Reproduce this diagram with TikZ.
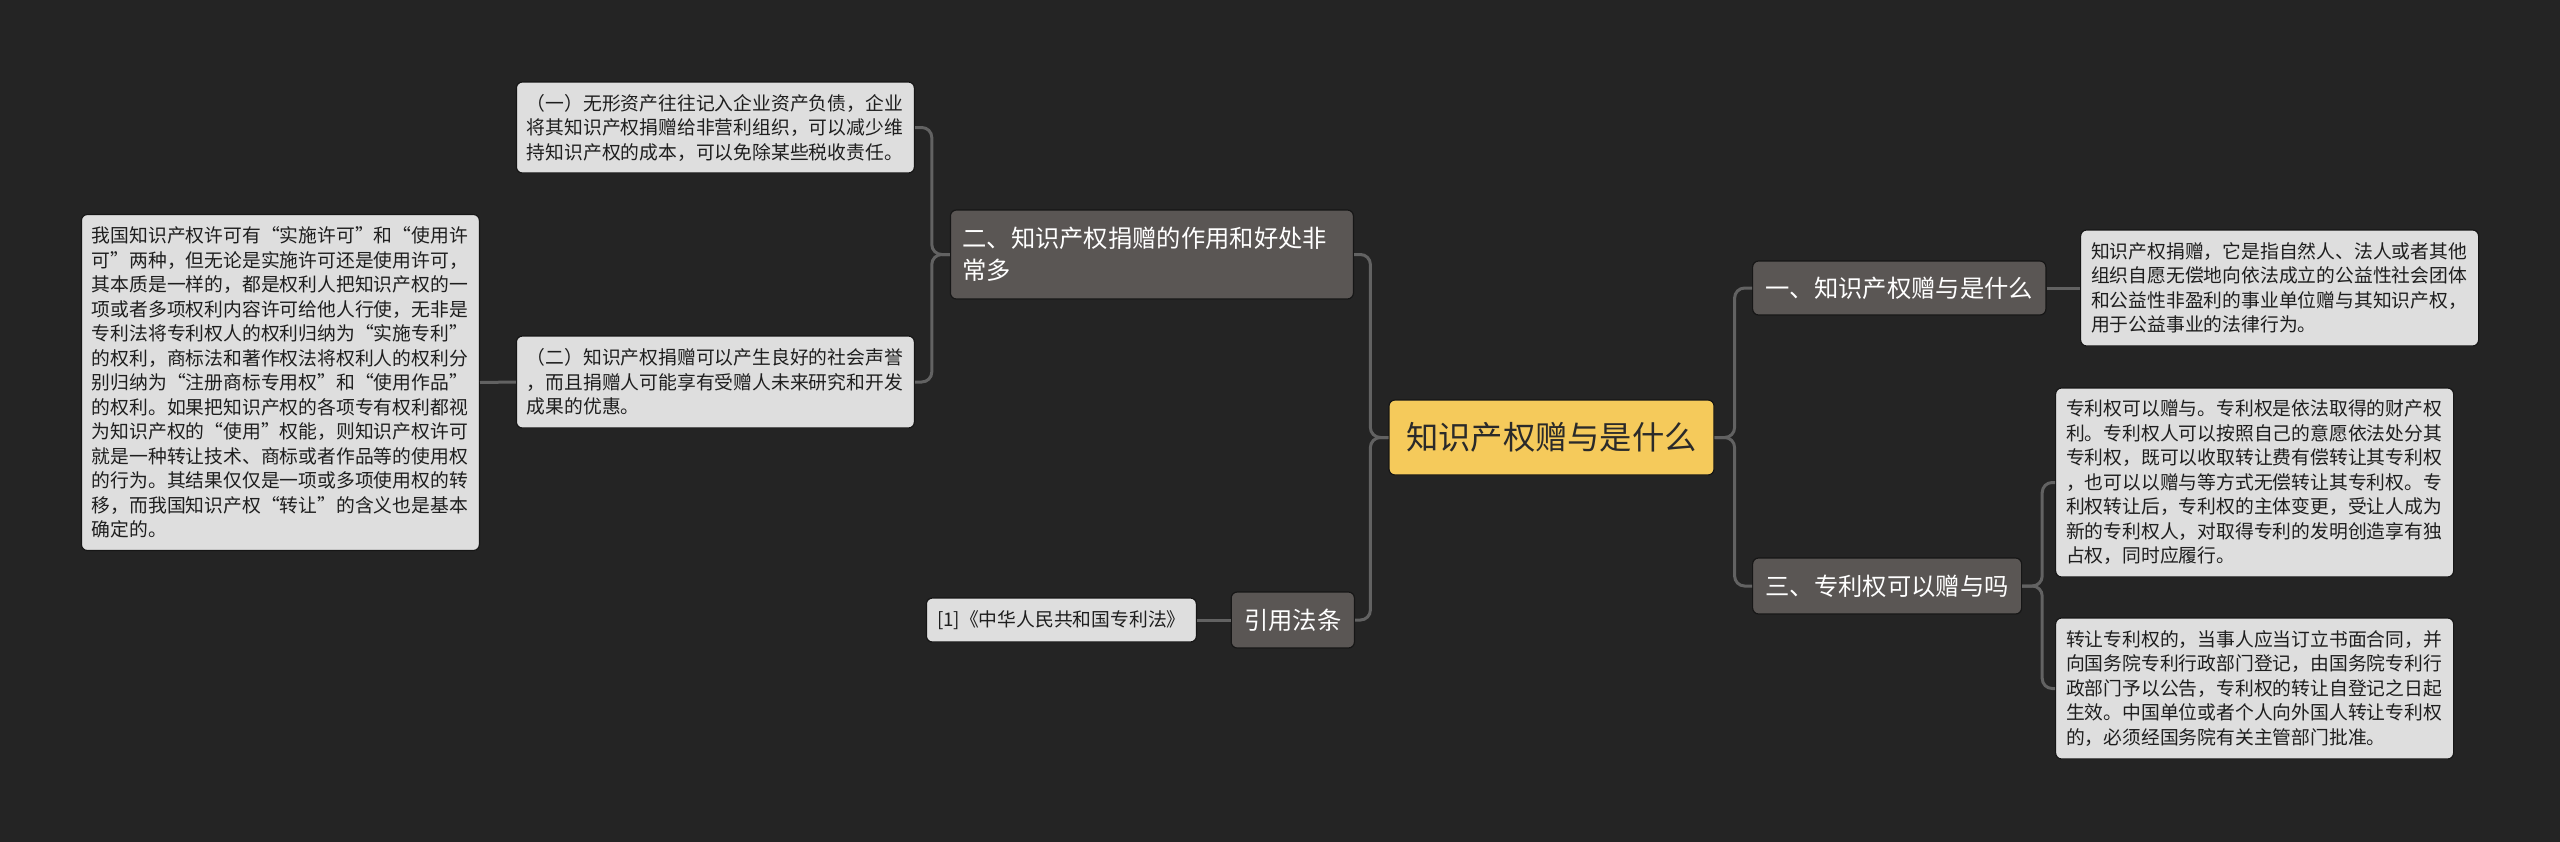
\documentclass[tikz,border=0pt]{standalone}
\usepackage{fontspec}
\setmainfont{Noto Sans CJK SC}
\definecolor{bgc}{HTML}{242424}
\definecolor{leafc}{HTML}{DEDEDE}
\definecolor{leaftext}{HTML}{1E1E1E}
\definecolor{branchc}{HTML}{5A5654}
\definecolor{rootc}{HTML}{F5CA5B}
\definecolor{roottext}{HTML}{2A2A2A}
\definecolor{linec}{HTML}{626262}
\definecolor{edgec}{HTML}{161616}
\begin{document}
\begin{tikzpicture}[x=1pt,y=-1pt,
  leaf/.style={fill=leafc, draw=edgec, line width=1.2pt, rounded corners=6pt, text=leaftext,
    font=\fontsize{18.8}{24.5}\selectfont, align=left, text width=377pt,
    inner xsep=10.5pt, inner ysep=0pt},
  reflf/.style={fill=leafc, draw=edgec, line width=1.2pt, rounded corners=6pt, text=leaftext,
    font=\fontsize{18.8}{24.5}\selectfont, inner xsep=10pt, inner ysep=0pt},
  branch/.style={fill=branchc, draw=edgec, line width=1.2pt, rounded corners=6pt, text=white,
    font=\fontsize{24.3}{32}\selectfont, inner xsep=13pt, inner ysep=0pt},
  root/.style={fill=rootc, draw=edgec, line width=1.2pt, rounded corners=6pt, text=roottext,
    font=\fontsize{32.3}{40}\selectfont, inner xsep=0pt, inner ysep=0pt},
  conn/.style={draw=linec, line width=3pt, rounded corners=10pt}
]
\useasboundingbox (0,0) rectangle (2560,841);
\fill[bgc] (-5,-5) rectangle (2565,846);

\node[root, minimum width=325pt, minimum height=75pt] (root) at (1551.5,437.5) {知识产权赠与是什么};

\node[branch, anchor=east, align=left, text width=379pt, inner xsep=12pt, minimum height=89pt] (b2) at (1354,254.5)
  {二、知识产权捐赠的作用和好处非\\常多};
\node[branch, anchor=east, minimum height=56pt] (cite) at (1355,620) {引用法条};
\node[branch, anchor=west, minimum height=54pt] (b1) at (1752,288) {一、知识产权赠与是什么};
\node[branch, anchor=west, minimum height=56pt] (b3) at (1752,586) {三、专利权可以赠与吗};

\node[leaf, anchor=east, minimum height=91pt] (l1) at (915,127.5)
  {（一）无形资产往往记入企业资产负债，企业\\将其知识产权捐赠给非营利组织，可以减少维\\持知识产权的成本，可以免除某些税收责任。};
\node[leaf, anchor=east, minimum height=92pt] (l2) at (915,382)
  {（二）知识产权捐赠可以产生良好的社会声誉\\，而且捐赠人可能享有受赠人未来研究和开发\\成果的优惠。};
\node[leaf, anchor=east, minimum height=336pt] (l3) at (480,382.5)
  {我国知识产权许可有“实施许可”和“使用许\\可”两种，但无论是实施许可还是使用许可，\\其本质是一样的，都是权利人把知识产权的一\\项或者多项权利内容许可给他人行使，无非是\\专利法将专利权人的权利归纳为“实施专利”\\的权利，商标法和著作权法将权利人的权利分\\别归纳为“注册商标专用权”和“使用作品”\\的权利。如果把知识产权的各项专有权利都视\\为知识产权的“使用”权能，则知识产权许可\\就是一种转让技术、商标或者作品等的使用权\\的行为。其结果仅仅是一项或多项使用权的转\\移，而我国知识产权“转让”的含义也是基本\\确定的。};
\node[reflf, anchor=east, minimum width=270pt, minimum height=44pt] (ref) at (1197,620) {[1]《中华人民共和国专利法》};

\node[leaf, anchor=west, minimum height=116pt] (r1) at (2080,288)
  {知识产权捐赠，它是指自然人、法人或者其他\\组织自愿无偿地向依法成立的公益性社会团体\\和公益性非盈利的事业单位赠与其知识产权，\\用于公益事业的法律行为。};
\node[leaf, anchor=west, minimum height=189pt] (r2) at (2055,482.5)
  {专利权可以赠与。专利权是依法取得的财产权\\利。专利权人可以按照自己的意愿依法处分其\\专利权，既可以收取转让费有偿转让其专利权\\，也可以以赠与等方式无偿转让其专利权。专\\利权转让后，专利权的主体变更，受让人成为\\新的专利权人，对取得专利的发明创造享有独\\占权，同时应履行。};
\node[leaf, anchor=west, minimum height=141pt] (r3) at (2055,688.5)
  {转让专利权的，当事人应当订立书面合同，并\\向国务院专利行政部门登记，由国务院专利行\\政部门予以公告，专利权的转让自登记之日起\\生效。中国单位或者个人向外国人转让专利权\\的，必须经国务院有关主管部门批准。};

\draw[conn] (root.west) -- ++(-18,0) |- (b2.east);
\draw[conn] (root.west) -- ++(-18,0) |- (cite.east);
\draw[conn] (root.east) -- ++(20,0) |- (b1.west);
\draw[conn] (root.east) -- ++(20,0) |- (b3.west);
\draw[conn] (b2.west) -- ++(-18,0) |- (l1.east);
\draw[conn] (b2.west) -- ++(-18,0) |- (l2.east);
\draw[conn] (l2.west) -- (l3.east);
\draw[conn] (cite.west) -- (ref.east);
\draw[conn] (b1.east) -- (r1.west);
\draw[conn] (b3.east) -- ++(20,0) |- (r2.west);
\draw[conn] (b3.east) -- ++(20,0) |- (r3.west);
\end{tikzpicture}
\end{document}
